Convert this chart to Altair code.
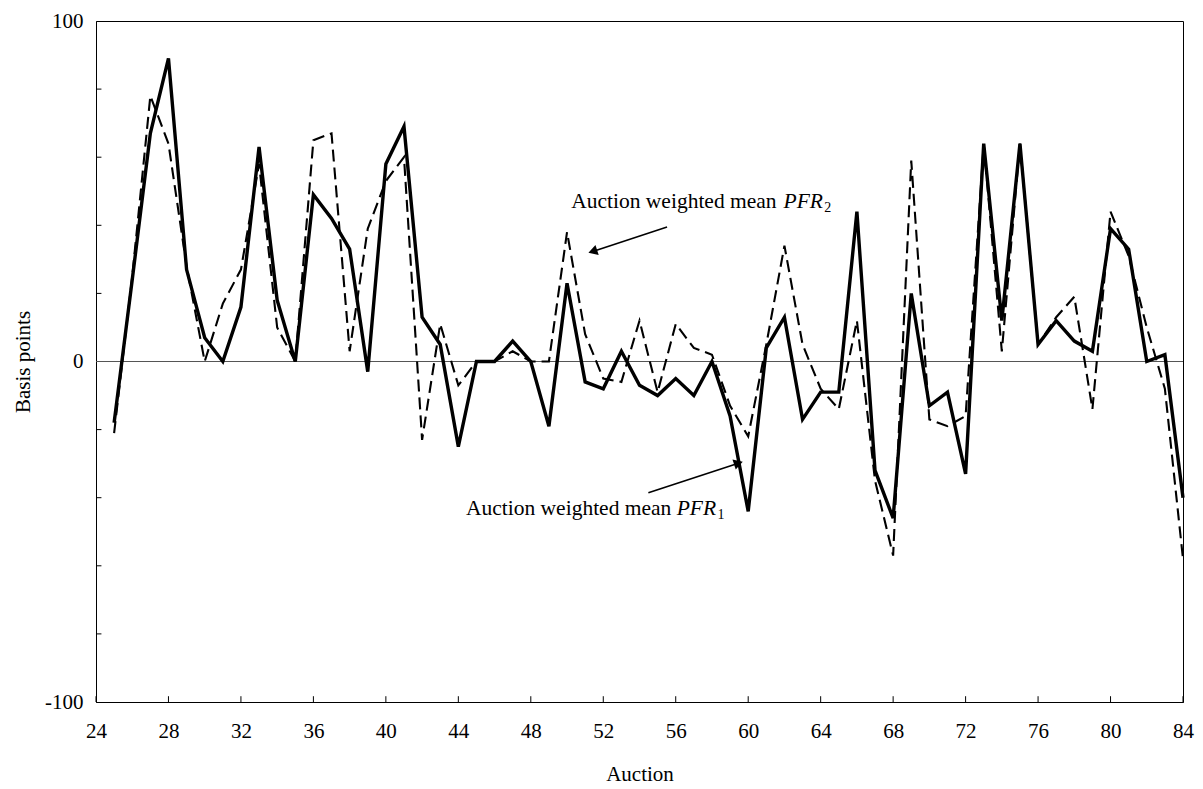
import altair as alt
import pandas as pd

# ---- data ----
auction = [25, 26, 27, 28, 29, 30, 31, 32, 33, 34, 35, 36, 37, 38, 39, 40, 41, 42, 43, 44,
           45, 46, 47, 48, 49, 50, 51, 52, 53, 54, 55, 56, 57, 58, 59, 60, 61, 62, 63, 64,
           65, 66, 67, 68, 69, 70, 71, 72, 73, 74, 75, 76, 77, 78, 79, 80, 81, 82, 83, 84]
pfr1 = [-18, 24, 67, 89, 27, 7, 0, 16, 63, 18, 0, 49, 42, 33, -3, 58, 69, 13, 5, -25,
        0, 0, 6, 0, -19, 23, -6, -8, 3, -7, -10, -5, -10, 0, -16, -44, 4, 13, -17, -9,
        -9, 44, -32, -46, 20, -13, -9, -33, 64, 12, 64, 5, 12, 6, 3, 39, 33, 0, 2, -40]
pfr2 = [-21, 25, 78, 64, 28, 0, 17, 27, 58, 10, 0, 65, 67, 3, 39, 53, 60, -23, 11, -7,
        0, 0, 3, 0, 0, 38, 8, -5, -6, 12, -9, 11, 4, 2, -13, -22, 5, 34, 5, -8,
        -14, 12, -35, -57, 59, -17, -19, -16, 64, 3, 64, 5, 13, 19, -14, 44, 31, 10, -8, -58]

x_ticks = [24, 28, 32, 36, 40, 44, 48, 52, 56, 60, 64, 68, 72, 76, 80, 84]
y_labels = [-100, 0, 100]
y_minor = [-80, -60, -40, -20, 20, 40, 60, 80]

FONT = "Liberation Serif"
FS = 21

df = pd.DataFrame({"auction": auction, "PFR1": pfr1, "PFR2": pfr2})

x_scale = alt.Scale(domain=[24, 84], nice=False, zero=False)
y_scale = alt.Scale(domain=[-100, 100], nice=False, zero=False)

x_axis = alt.Axis(values=x_ticks, tickSize=0, labelPadding=18, labelFont=FONT,
                  labelFontSize=FS, labelColor="black", grid=False, domainColor="black",
                  title="Auction", titleFont=FONT, titleFontSize=FS, titleFontWeight="normal",
                  titleColor="black", titlePadding=22, labelFlush=False)
y_axis = alt.Axis(values=y_labels, tickSize=0, labelPadding=13, labelFont=FONT,
                  labelFontSize=FS, labelColor="black", grid=False, domainColor="black",
                  labelExpr="datum.value < 0 ? '-' + abs(datum.value) : datum.label",
                  title="Basis points", titleFont=FONT, titleFontSize=FS,
                  titleFontWeight="normal", titleColor="black", titlePadding=11)

base = alt.Chart(df)

solid = base.mark_line(color="black", strokeWidth=3.4, strokeJoin="miter").encode(
    x=alt.X("auction:Q", scale=x_scale, axis=x_axis),
    y=alt.Y("PFR1:Q", scale=y_scale, axis=y_axis),
)
dashed = base.mark_line(color="black", strokeWidth=2.1, strokeDash=[12, 6]).encode(
    x=alt.X("auction:Q", scale=x_scale),
    y=alt.Y("PFR2:Q", scale=y_scale),
)

zero = alt.Chart(pd.DataFrame({"y": [0]})).mark_rule(color="#555555", strokeWidth=1).encode(
    y=alt.Y("y:Q", scale=y_scale)
)

# inward axis ticks
xt = pd.DataFrame({"x": x_ticks, "y": [-100] * len(x_ticks), "y2": [-98.3] * len(x_ticks)})
xtick = alt.Chart(xt).mark_rule(color="black", strokeWidth=1).encode(
    x=alt.X("x:Q", scale=x_scale), y=alt.Y("y:Q", scale=y_scale), y2="y2:Q"
)
yt = pd.DataFrame({"y": y_minor, "x": [24] * len(y_minor), "x2": [24.3] * len(y_minor)})
ytick = alt.Chart(yt).mark_rule(color="black", strokeWidth=1).encode(
    y=alt.Y("y:Q", scale=y_scale), x=alt.X("x:Q", scale=x_scale), x2="x2:Q"
)

# annotations
ann_reg = pd.DataFrame({"x": [50.23, 44.42], "y": [45.1, -45.1],
                        "t": ["Auction weighted mean", "Auction weighted mean"]})
ann_it = pd.DataFrame({"x": [61.95, 56.05], "y": [45.1, -45.1], "t": ["PFR", "PFR"]})
ann_sub = pd.DataFrame({"x": [64.2, 58.3], "y": [43.9, -46.3], "t": ["2", "1"]})

t_reg = alt.Chart(ann_reg).mark_text(font=FONT, fontSize=21.5, align="left",
                                     baseline="alphabetic", color="black").encode(
    x=alt.X("x:Q", scale=x_scale), y=alt.Y("y:Q", scale=y_scale), text="t:N")
t_it = alt.Chart(ann_it).mark_text(font=FONT, fontSize=21.5, fontStyle="italic", align="left",
                                   baseline="alphabetic", color="black").encode(
    x=alt.X("x:Q", scale=x_scale), y=alt.Y("y:Q", scale=y_scale), text="t:N")
t_sub = alt.Chart(ann_sub).mark_text(font=FONT, fontSize=14, align="left",
                                     baseline="alphabetic", color="black").encode(
    x=alt.X("x:Q", scale=x_scale), y=alt.Y("y:Q", scale=y_scale), text="t:N")

arrows = pd.DataFrame({"x": [55.52, 54.49], "y": [39.5, -38.53],
                       "x2": [51.42, 59.46], "y2": [32.33, -29.87],
                       "ang": [162, 342]})
arrow_lines = alt.Chart(arrows).mark_rule(color="black", strokeWidth=1.6).encode(
    x=alt.X("x:Q", scale=x_scale), y=alt.Y("y:Q", scale=y_scale), x2="x2:Q", y2="y2:Q")
arrow_heads = alt.Chart(arrows).mark_point(shape="triangle-right", filled=True, color="black",
                                           size=110, opacity=1).encode(
    x=alt.X("x2:Q", scale=x_scale), y=alt.Y("y2:Q", scale=y_scale),
    angle=alt.Angle("ang:Q", scale=None))

chart = alt.layer(zero, xtick, ytick, dashed, solid, arrow_lines, arrow_heads,
                  t_reg, t_it, t_sub).properties(
    width=1087, height=681,
    padding={"left": 88, "top": 13, "right": 12, "bottom": 86},
    autosize=alt.AutoSizeParams(type="none"),
    background="white",
).configure_view(stroke="black", strokeWidth=1)

chart.save("out.html", embed_options={"renderer": "svg", "actions": False})
